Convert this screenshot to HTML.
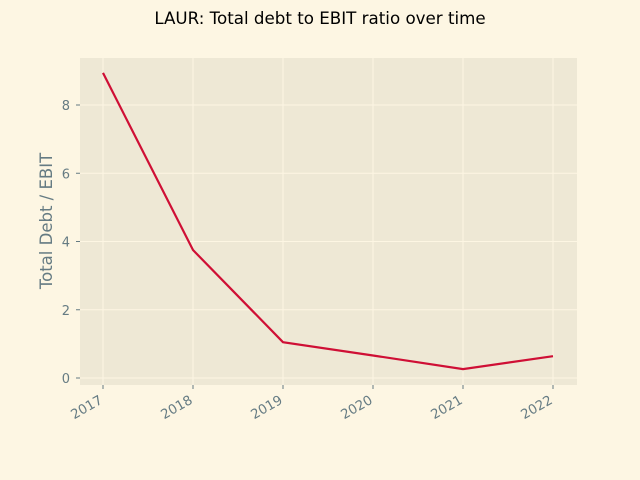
<!DOCTYPE html>
<html><head><meta charset="utf-8"><style>
body{margin:0;background:#fdf6e3;}
svg{display:block;font-family:"DejaVu Sans","Liberation Sans",sans-serif;}
</style></head><body>
<svg id="chart" width="640" height="480">
<rect width="640" height="480" fill="#fdf6e3"/>
<text x="320" y="24" text-anchor="middle" font-size="16.7" fill="#000">LAUR: Total debt to EBIT ratio over time</text>
<rect x="80" y="58" width="497" height="327" fill="#eee8d5"/>
<g id="grid"></g><g id="ticks"></g><g id="series"></g>
<text transform="translate(52,221) rotate(-90)" text-anchor="middle" font-size="16.5" fill="#657b83">Total Debt / EBIT</text>
</svg>
<script>
const years = [2017, 2018, 2019, 2020, 2021, 2022];
const ratios = [8.94, 3.75, 1.05, 0.66, 0.26, 0.64];
const yTicks = [0, 2, 4, 6, 8];
const NS = "http://www.w3.org/2000/svg";
const x = v => 103 + (v - 2017) * 90;
const y = v => 378 - v * 34.125;
function mk(tag, attrs, parent, txt) {
  const e = document.createElementNS(NS, tag);
  for (const k in attrs) e.setAttribute(k, attrs[k]);
  if (txt !== undefined) e.textContent = txt;
  document.getElementById(parent).appendChild(e);
  return e;
}
yTicks.forEach(t => {
  const g = mk('line', {x1: 80, x2: 577, y1: y(t), y2: y(t), stroke: '#fdf6e3', 'stroke-width': 1}, 'grid');
  
  
  const tm = mk('line', {x1: 76, x2: 80, y1: y(t), y2: y(t), stroke: '#657b83', 'stroke-width': 1}, 'ticks');
  
  
  const l = mk('text', {x: 70, y: y(t) + 5, 'text-anchor': 'end', 'font-size': 13, fill: '#657b83'}, 'ticks', String(t));
  
  
});
years.forEach(yr => {
  const g = mk('line', {x1: x(yr), x2: x(yr), y1: 58, y2: 385, stroke: '#fdf6e3', 'stroke-width': 1}, 'grid');
  
  
  const tm = mk('line', {x1: x(yr), x2: x(yr), y1: 385, y2: 389, stroke: '#657b83', 'stroke-width': 1}, 'ticks');
  
  
  const ax = x(yr) - 4, ay = 395;
  const l = mk('text', {x: ax, y: ay, 'text-anchor': 'end', 'dominant-baseline': 'hanging', 'font-size': 13.3, fill: '#657b83', transform: `rotate(-30 ${ax} ${ay})`}, 'ticks', String(yr));
  
  
});
const pts = years.map((yr, i) => x(yr) + ',' + y(ratios[i])).join(' ');
const line = mk('polyline', {points: pts, fill: 'none', stroke: '#cf0f35', 'stroke-width': 2.2}, 'series');


</script>
</body></html>
